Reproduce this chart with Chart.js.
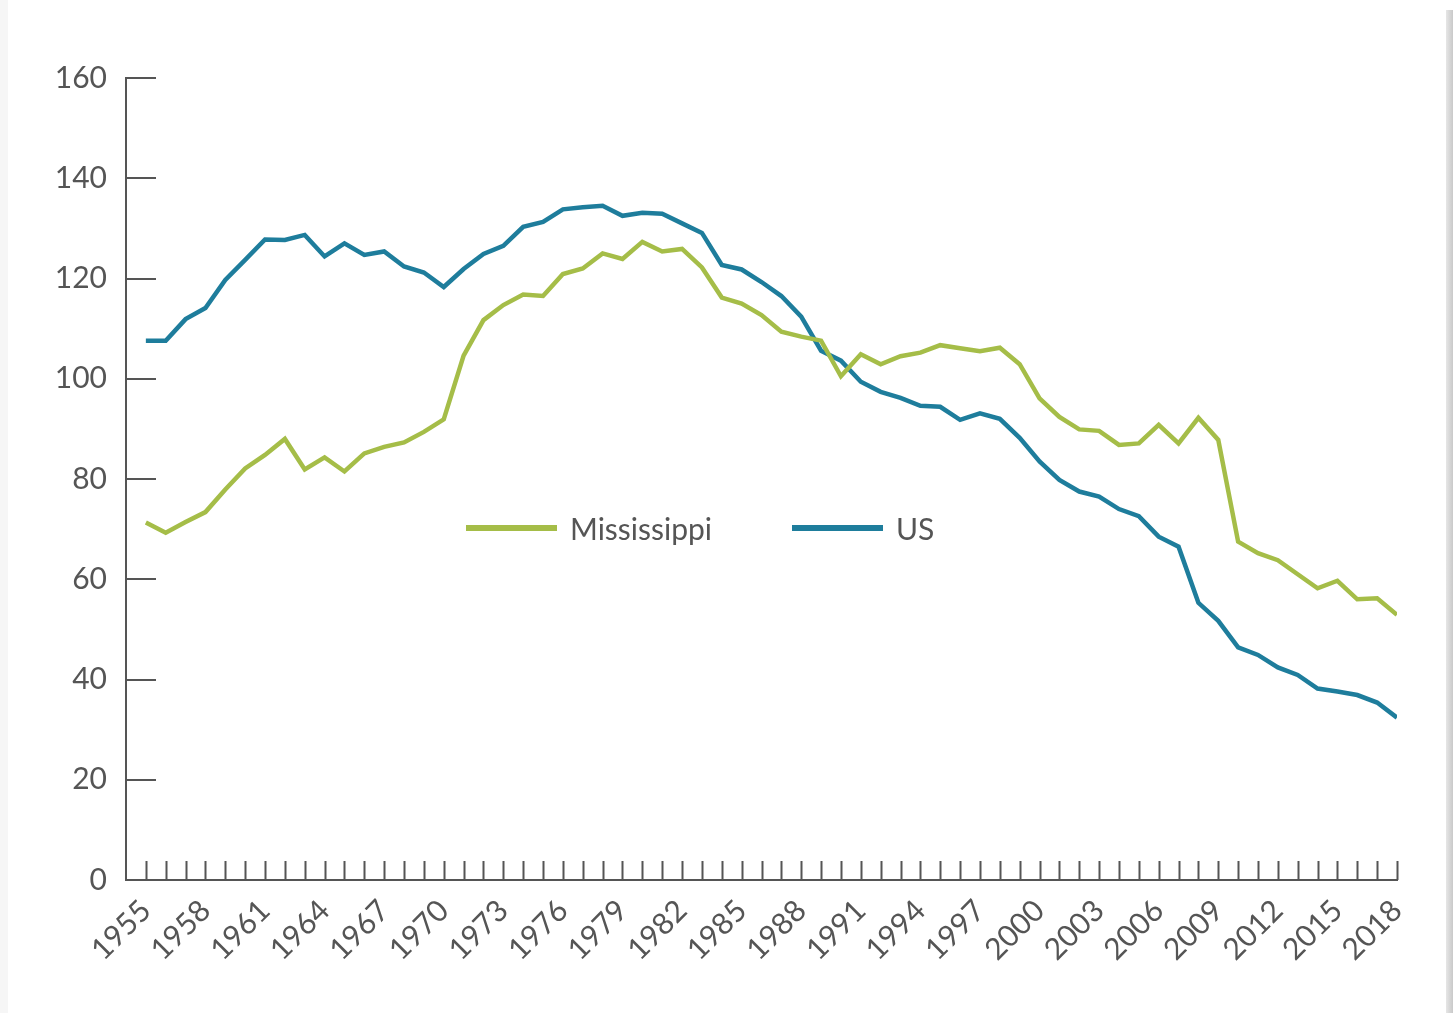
<!DOCTYPE html>
<html>
<head>
<meta charset="utf-8">
<title>Mississippi vs US</title>
<script src="https://cdn.jsdelivr.net/npm/chart.js@4.4.1/dist/chart.umd.min.js"></script>
<style>
  html, body { margin: 0; padding: 0; background: #fff; }
  body { width: 1453px; height: 1013px; position: relative; overflow: hidden; font-family: Lato, "DejaVu Sans", sans-serif; }
  .edge-left { position: absolute; left: 0; top: 0; width: 8px; height: 1013px; background: #f6f6f6; }
  .edge-right { position: absolute; left: 1446px; top: 10px; width: 7px; height: 1003px; background: linear-gradient(to right, #e6e6e6, #c9c9c9); }
  #chartWrap { position: absolute; left: 0; top: 0; width: 1453px; height: 1013px; }
  .legend { position: absolute; top: 508px; left: 0; height: 40px; }
  .legend-item { position: absolute; top: 0; display: flex; align-items: center; height: 40px; white-space: nowrap; }
  .legend-line { height: 6px; width: 91px; margin-right: 13px; }
  .legend-text { font-size: 30px; color: #555; line-height: 40px; }
</style>
</head>
<body>
<div class="edge-left"></div>
<div class="edge-right"></div>
<div id="chartWrap"><canvas id="chart" width="1453" height="1013"></canvas></div>
<div class="legend">
  <div class="legend-item" style="left:466px"><div class="legend-line" id="legMs"></div><span class="legend-text">Mississippi</span></div>
  <div class="legend-item" style="left:792px"><div class="legend-line" id="legUs"></div><span class="legend-text">US</span></div>
</div>
<script>
// ─── Data ────────────────────────────────────────────────────────────────────
const years = [];
for (let y = 1955; y <= 2018; y++) years.push(y);

const mississippi = [
  71.3, 69.3, 71.4, 73.4, 77.9, 82.1, 84.8, 88.0, 81.9, 84.3,   // 1955-1964
  81.5, 85.1, 86.4, 87.3, 89.4, 91.9, 104.6, 111.7, 114.7, 116.8, // 1965-1974
  116.5, 120.9, 122.0, 125.0, 123.9, 127.3, 125.4, 125.9, 122.2, 116.2, // 1975-1984
  115.0, 112.7, 109.4, 108.4, 107.6, 100.5, 104.9, 102.9, 104.5, 105.2, // 1985-1994
  106.7, 106.1, 105.5, 106.2, 102.9, 96.1, 92.4, 89.9, 89.6, 86.8, // 1995-2004
  87.1, 90.8, 87.1, 92.2, 87.8, 67.5, 65.2, 63.8, 61.0, 58.2,    // 2005-2014
  59.7, 56.0, 56.2, 52.9                                          // 2015-2018
];

const us = [
  107.6, 107.6, 111.9, 114.1, 119.7, 123.7, 127.8, 127.7, 128.7, 124.4, // 1955-1964
  127.0, 124.7, 125.4, 122.4, 121.2, 118.3, 121.9, 124.9, 126.5, 130.3, // 1965-1974
  131.3, 133.8, 134.2, 134.5, 132.5, 133.1, 132.9, 131.0, 129.1, 122.7, // 1975-1984
  121.8, 119.3, 116.5, 112.4, 105.6, 103.6, 99.4, 97.4, 96.2, 94.6,    // 1985-1994
  94.4, 91.8, 93.1, 92.0, 88.2, 83.5, 79.8, 77.5, 76.5, 74.0,          // 1995-2004
  72.6, 68.5, 66.5, 55.3, 51.7, 46.4, 44.9, 42.4, 40.9, 38.2,          // 2005-2014
  37.6, 36.9, 35.4, 32.4                                               // 2015-2018
];

const yTicks = [0, 20, 40, 60, 80, 100, 120, 140, 160];

const GREEN = '#a5bd48';
const BLUE = '#1e7d9c';
const AXIS = '#555555';
const FONT = 'Lato, "DejaVu Sans", sans-serif';

document.getElementById('legMs').style.background = GREEN;
document.getElementById('legUs').style.background = BLUE;

// ─── Inner tick marks (drawn inside the plot, as in the original) ───────────
const innerTicks = {
  id: 'innerTicks',
  afterDraw(chart) {
    const { ctx, scales: { x, y } } = chart;
    ctx.save();
    ctx.strokeStyle = AXIS;
    ctx.lineWidth = 2;
    ctx.beginPath();
    years.forEach(yr => {
      const px = Math.round(x.getPixelForValue(yr)) + 0.5;
      ctx.moveTo(px, y.bottom);
      ctx.lineTo(px, y.bottom - 19);
    });
    yTicks.slice(1).forEach(v => {
      const py = Math.round(y.getPixelForValue(v));
      ctx.moveTo(x.left, py);
      ctx.lineTo(x.left + 30, py);
    });
    ctx.stroke();
    ctx.restore();
  }
};

function makeSeries(vals) {
  return years.map((yr, i) => ({ x: yr, y: vals[i] }));
}

new Chart(document.getElementById('chart'), {
  type: 'line',
  data: {
    datasets: [
      { label: 'Mississippi', data: makeSeries(mississippi), borderColor: GREEN, borderWidth: 4.5, pointRadius: 0, tension: 0 },
      { label: 'US', data: makeSeries(us), borderColor: BLUE, borderWidth: 4.5, pointRadius: 0, tension: 0 },
    ],
  },
  options: {
    responsive: false,
    animation: false,
    devicePixelRatio: 1,
    layout: { padding: { left: 0, top: 78, right: 56, bottom: 0 } },
    plugins: { legend: { display: false }, tooltip: { enabled: false } },
    scales: {
      x: {
        type: 'linear',
        min: 1954,
        max: 2018,
        grid: { display: false, drawTicks: false },
        border: { display: true, color: AXIS, width: 2 },
        afterFit: s => { s.height = 133; },
        ticks: {
          stepSize: 1,
          autoSkip: false,
          minRotation: 45,
          maxRotation: 45,
          padding: 13,
          color: AXIS,
          font: { family: FONT, size: 30 },
          callback: v => (v >= 1955 && (v - 1955) % 3 === 0) ? String(v) : '',
        },
      },
      y: {
        min: 0,
        max: 160,
        grid: { display: false, drawTicks: false },
        border: { display: true, color: AXIS, width: 2 },
        afterFit: s => { s.width = 126; },
        afterBuildTicks: s => { s.ticks = yTicks.map(v => ({ value: v })); },
        ticks: {
          padding: 19,
          color: AXIS,
          font: { family: FONT, size: 30 },
        },
      },
    },
  },
  plugins: [innerTicks],
});
</script>
</body>
</html>
